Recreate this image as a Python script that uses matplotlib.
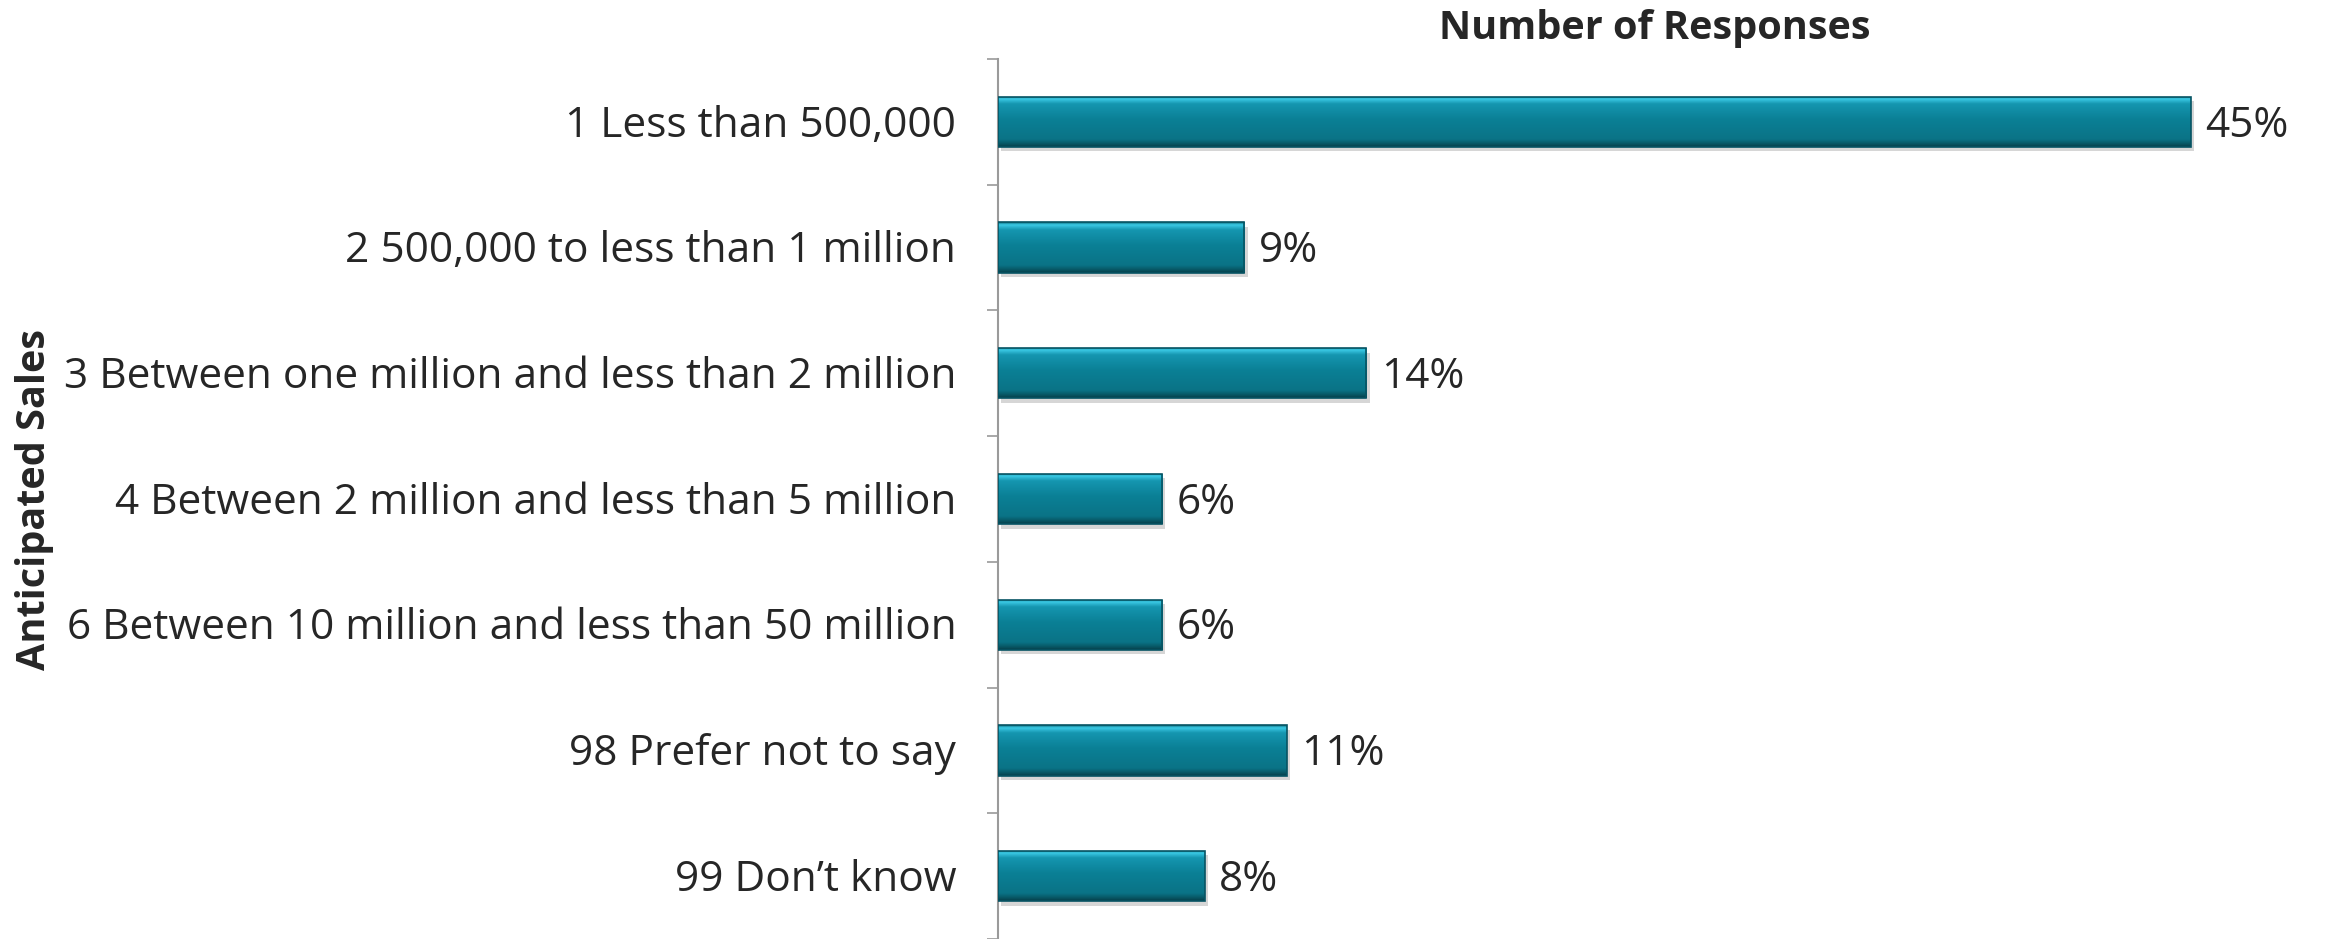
import numpy as np
import matplotlib
matplotlib.use("Agg")
import matplotlib.pyplot as plt
from matplotlib.colors import LinearSegmentedColormap
from matplotlib.patches import Rectangle

categories = [
    "1 Less than 500,000",
    "2 500,000 to less than 1 million",
    "3 Between one million and less than 2 million",
    "4 Between 2 million and less than 5 million",
    "6 Between 10 million and less than 50 million",
    "98 Prefer not to say",
    "99 Don\u2019t know",
]
# bar lengths (labels are rounded)
shares = [45.0, 9.3, 13.9, 6.2, 6.2, 10.9, 7.8]
labels = ["45%", "9%", "14%", "6%", "6%", "11%", "8%"]

plt.rcParams['font.family'] = ['Open Sans', 'DejaVu Sans']
txt = "#262626"

W, H = 2325, 939
fig = plt.figure(figsize=(W / 100, H / 100), dpi=100)
ax = fig.add_axes([998 / W, 0, (2217 - 998) / W, (939 - 59) / H])

y = np.arange(len(categories))
bh = 0.4

# shadow under each bar
ax.barh(y + 0.035, shares, height=bh, left=0.12, color="#000000", alpha=0.16, zorder=1)
bars = ax.barh(y, shares, height=bh, color="#0b7a8e", zorder=2)

# vertical gradient to mimic the bevelled Excel bars (top light, bottom dark)
grad = LinearSegmentedColormap.from_list("bev", [
    (0.0, "#0a6b7c"), (0.05, "#3ccbe6"), (0.15, "#1596b0"),
    (0.45, "#0b8096"), (0.85, "#0a7386"), (0.93, "#085a68"), (1.0, "#063f4a")])
col = np.linspace(0, 1, 200).reshape(-1, 1)
for b in bars:
    x0, y0, w, h = b.get_x(), b.get_y(), b.get_width(), b.get_height()
    im = ax.imshow(col, cmap=grad, aspect="auto", extent=(x0, x0 + w, y0, y0 + h),
                   origin="lower", zorder=3, interpolation="bilinear")
    im.set_clip_path(b)
    ax.add_patch(Rectangle((x0, y0), w, h, fill=False, edgecolor="#075463", lw=1.2, zorder=4))

for yi, v, lab in zip(y, shares, labels):
    ax.text(v + 0.55, yi + 0.03, lab, va="center", ha="left", fontsize=30.5, color=txt)

ax.set_ylim(len(categories) - 0.5, -0.5)
ax.set_xlim(0, 46)
ax.set_yticks(y - 0.01)
ax.set_yticklabels(categories, fontsize=30.5, color=txt)
ax.set_yticks(np.arange(len(categories) + 1) - 0.5, minor=True)
ax.tick_params(axis="y", which="major", length=0, pad=30)
ax.tick_params(axis="y", which="minor", length=8, width=1.2, color="#9a9a9a")
ax.set_xticks([])
for s in ["top", "right", "bottom"]:
    ax.spines[s].set_visible(False)
ax.spines["left"].set_color("#9a9a9a")
ax.spines["left"].set_linewidth(1.5)

fig.text(1655 / W, 1 - 29 / H, "Number of Responses", ha="center", va="center",
         fontsize=28.5, fontweight="bold", color=txt)
fig.text(35 / W, 1 - 500 / H, "Anticipated Sales", ha="center", va="center",
         rotation=90, fontsize=28.5, fontweight="bold", color=txt)

fig.savefig("out.png", dpi=100)
